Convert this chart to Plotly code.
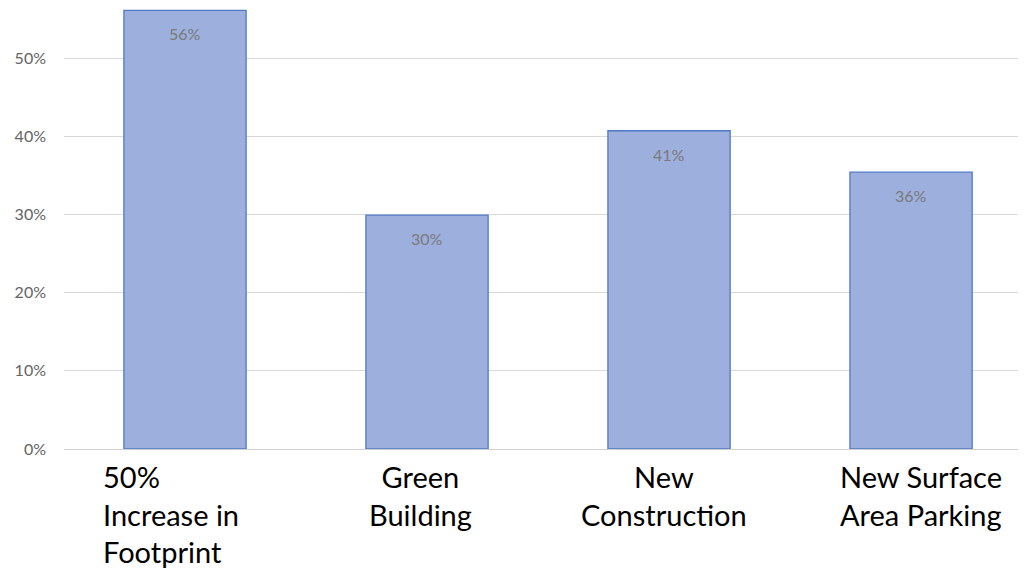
import plotly.graph_objects as go

categories = ["50% Increase in Footprint", "Green Building", "New Construction", "New Surface Area Parking"]
label_lines = ["50%<br>Increase in<br>Footprint", "Green<br>Building", "New<br>Construction", "New Surface<br>Area Parking"]
values = [0.561, 0.299, 0.407, 0.354]
value_labels = ["56%", "30%", "41%", "36%"]
y_ticks = [0, 0.1, 0.2, 0.3, 0.4, 0.5]
y_ticklabels = ["0%", "10%", "20%", "30%", "40%", "50%"]

# label styling (alignment / small horizontal nudges)
label_align = ["left", "center", "center", "left"]
label_xshift = [-14, -7, -5, 10]

fig = go.Figure()
fig.add_trace(go.Bar(
    x=categories, y=values, width=0.505,
    marker=dict(color="#9cafdd", line=dict(color="#4f79c6", width=1.3)),
    hoverinfo="skip",
))

for c, v, t in zip(categories, values, value_labels):
    fig.add_annotation(x=c, y=v, text=t, showarrow=False, yanchor="top", yshift=-12,
                       font=dict(family="Lato", size=16, color="#7a7a7a"))

for c, t, a, dx in zip(categories, label_lines, label_align, label_xshift):
    fig.add_annotation(x=c, y=0, yref="y", text=t, showarrow=False, yanchor="top",
                       xanchor="center", align=a, yshift=-8, xshift=dx,
                       font=dict(family="Lato", size=29, color="#000000"))

fig.update_layout(
    width=1018, height=562,
    margin=dict(l=56, r=0, t=0, b=121),
    plot_bgcolor="white", paper_bgcolor="white",
    showlegend=False,
)
fig.update_xaxes(range=[-0.5, 3.475], showticklabels=False, showgrid=False, zeroline=False,
                 showline=False, ticks="")
fig.update_yaxes(range=[0, 0.564], tickvals=y_ticks, ticktext=y_ticklabels,
                 showgrid=True, gridcolor="#d9d9d9", gridwidth=1,
                 zeroline=True, zerolinecolor="#d0d0d0", zerolinewidth=1,
                 tickfont=dict(family="Lato", size=16, color="#646464"),
                 ticklabelstandoff=17, showline=False, ticks="")

fig.write_html("out.html")
